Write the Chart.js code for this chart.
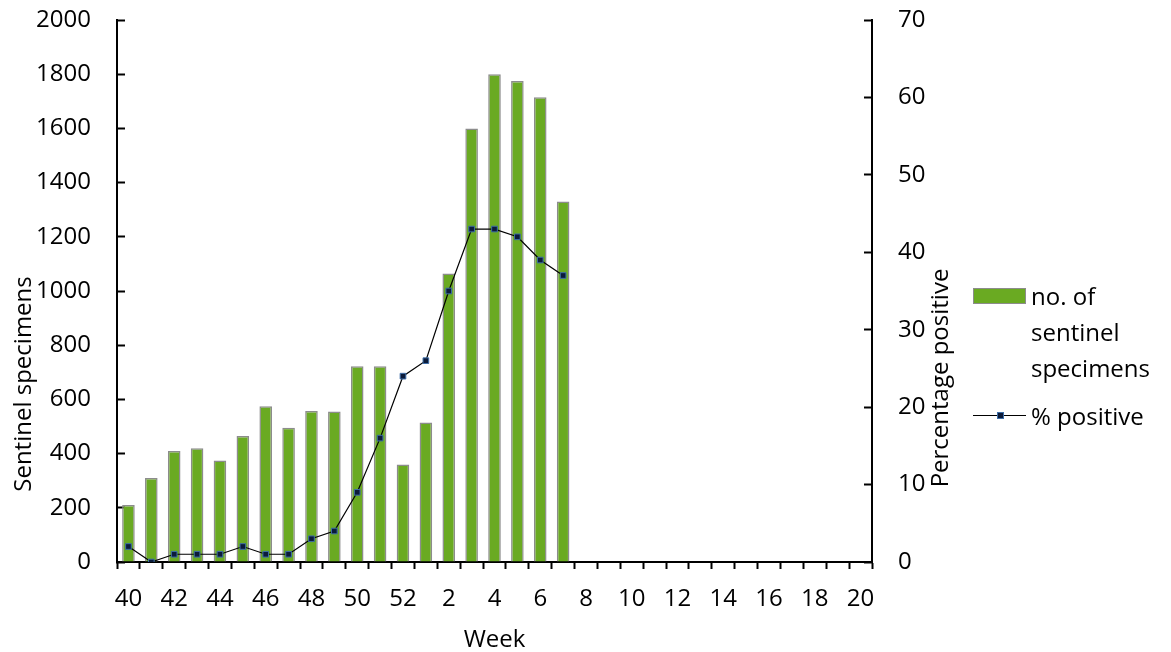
<!DOCTYPE html>
<html>
<head>
<meta charset="utf-8">
<script src="https://cdn.jsdelivr.net/npm/chart.js@4/dist/chart.umd.min.js"></script>
<style>
    body { margin: 0; background: #fff; }
    #wrap { position: relative; width: 1171px; height: 652px; }
    #legend { position: absolute; left: 973px; top: 278px; font-family: "Open Sans", sans-serif; font-size: 24px; color: #000; }
    .item { position: relative; padding-left: 58px; line-height: 36px; }
    .box { position: absolute; left: 0; top: 10px; width: 51px; height: 14px; background: #6aaa22; border: 1px solid #8c8c8c; }
    .line { position: absolute; left: 0; top: 17px; width: 53px; height: 1px; background: #000; }
    .dot { position: absolute; left: 24px; top: 14px; width: 5px; height: 5px; background: #0b1b3a; border: 1px solid #3e6ea8; }
</style>
</head>
<body>
<div id="wrap">
    <canvas id="chart" width="1171" height="652"></canvas>
    <div id="legend">
        <div class="item"><span class="box"></span>no. of<br>sentinel<br>specimens</div>
        <div class="item" style="margin-top: 12px;"><span class="line"></span><span class="dot"></span>% positive</div>
    </div>
</div>
<script>
// weeks 40..52 then 1..20
const weeks = ["40", "41", "42", "43", "44", "45", "46", "47", "48", "49", "50", "51", "52",
    "1", "2", "3", "4", "5", "6", "7", "8", "9", "10", "11", "12", "13", "14", "15", "16", "17", "18", "19", "20"];
const specimens = [210, 310, 410, 420, 375, 465, 575, 495, 557, 555, 722, 722, 360, 515, 1065, 1600, 1800, 1775, 1715, 1330];
const pctPositive = [2, 0, 1, 1, 1, 2, 1, 1, 3, 4, 9, 16, 24, 26, 35, 43, 43, 42, 39, 37];

const FONT = "'Open Sans', sans-serif";
Chart.defaults.font.family = FONT;
Chart.defaults.font.size = 24;
Chart.defaults.color = "#000";

// y axis titles sit lower than the axis middle, so draw them by hand
const axisTitles = {
    id: "axisTitles",
    afterDraw(chart) {
        const ctx = chart.ctx;
        ctx.save();
        ctx.font = "24px " + FONT;
        ctx.fillStyle = "#000";
        ctx.textAlign = "center";
        ctx.textBaseline = "middle";
        ctx.translate(24, 384);
        ctx.rotate(-Math.PI / 2);
        ctx.fillText("Sentinel specimens", 0, 0);
        ctx.restore();
        ctx.save();
        ctx.font = "24px " + FONT;
        ctx.fillStyle = "#000";
        ctx.textAlign = "center";
        ctx.textBaseline = "middle";
        ctx.translate(941, 378);
        ctx.rotate(-Math.PI / 2);
        ctx.fillText("Percentage positive", 0, 0);
        ctx.restore();
    }
};

// fixed axis sizes so the plot sits where the original one does
function fixY(width) {
    return (s) => {
        s.width = width;
        s.paddingTop = 0;
        s.paddingBottom = 0;
    };
}

const ctx = document.getElementById("chart").getContext("2d");
new Chart(ctx, {
    type: "bar",
    data: {
        labels: weeks,
        datasets: [{
                type: "line",
                label: "% positive",
                data: pctPositive,
                yAxisID: "y1",
                borderColor: "#000",
                borderWidth: 1.2,
                pointStyle: "rect",
                pointRadius: 4,
                pointBackgroundColor: "#0b1b3a",
                pointBorderColor: "#3e6ea8",
                pointBorderWidth: 1,
                tension: 0,
                order: 0,
            },
            {
                label: "no. of sentinel specimens",
                data: specimens,
                yAxisID: "y",
                backgroundColor: "#6aaa22",
                borderColor: "#8c8c8c",
                borderWidth: 1.5,
                categoryPercentage: 1,
                barPercentage: 0.55,
                order: 1,
            },
        ],
    },
    options: {
        responsive: false,
        animation: false,
        layout: { padding: { top: 20, right: 199, left: 0, bottom: 0 } },
        plugins: {
            legend: { display: false },
            tooltip: { enabled: false },
        },
        scales: {
            x: {
                offset: true,
                grid: { offset: true, drawOnChartArea: false, tickLength: 7, tickWidth: 2, color: "#000" },
                border: { color: "#000", width: 2 },
                ticks: {
                    autoSkip: false,
                    maxRotation: 0,
                    padding: 16,
                    callback: (v, i) => (i % 2 === 0 ? weeks[i] : ""),
                },
                title: { display: true, text: "Week", padding: { top: 4, bottom: -3 } },
                afterFit: (s) => { s.height = 90; },
            },
            y: {
                position: "left",
                min: 0,
                max: 2000,
                grid: { drawOnChartArea: false, tickLength: -8, tickWidth: 2, color: "#000" },
                border: { color: "#000", width: 2 },
                ticks: { stepSize: 200, padding: 34, callback: (v) => String(v) },
                afterFit: fixY(117),
            },
            y1: {
                position: "right",
                min: 0,
                max: 70,
                grid: { drawOnChartArea: false, tickLength: -8, tickWidth: 2, color: "#000" },
                border: { color: "#000", width: 2 },
                ticks: { stepSize: 10, padding: 34, callback: (v) => String(v) },
                afterFit: fixY(100),
            },
        },
    },
    plugins: [axisTitles],
});
</script>
</body>
</html>
